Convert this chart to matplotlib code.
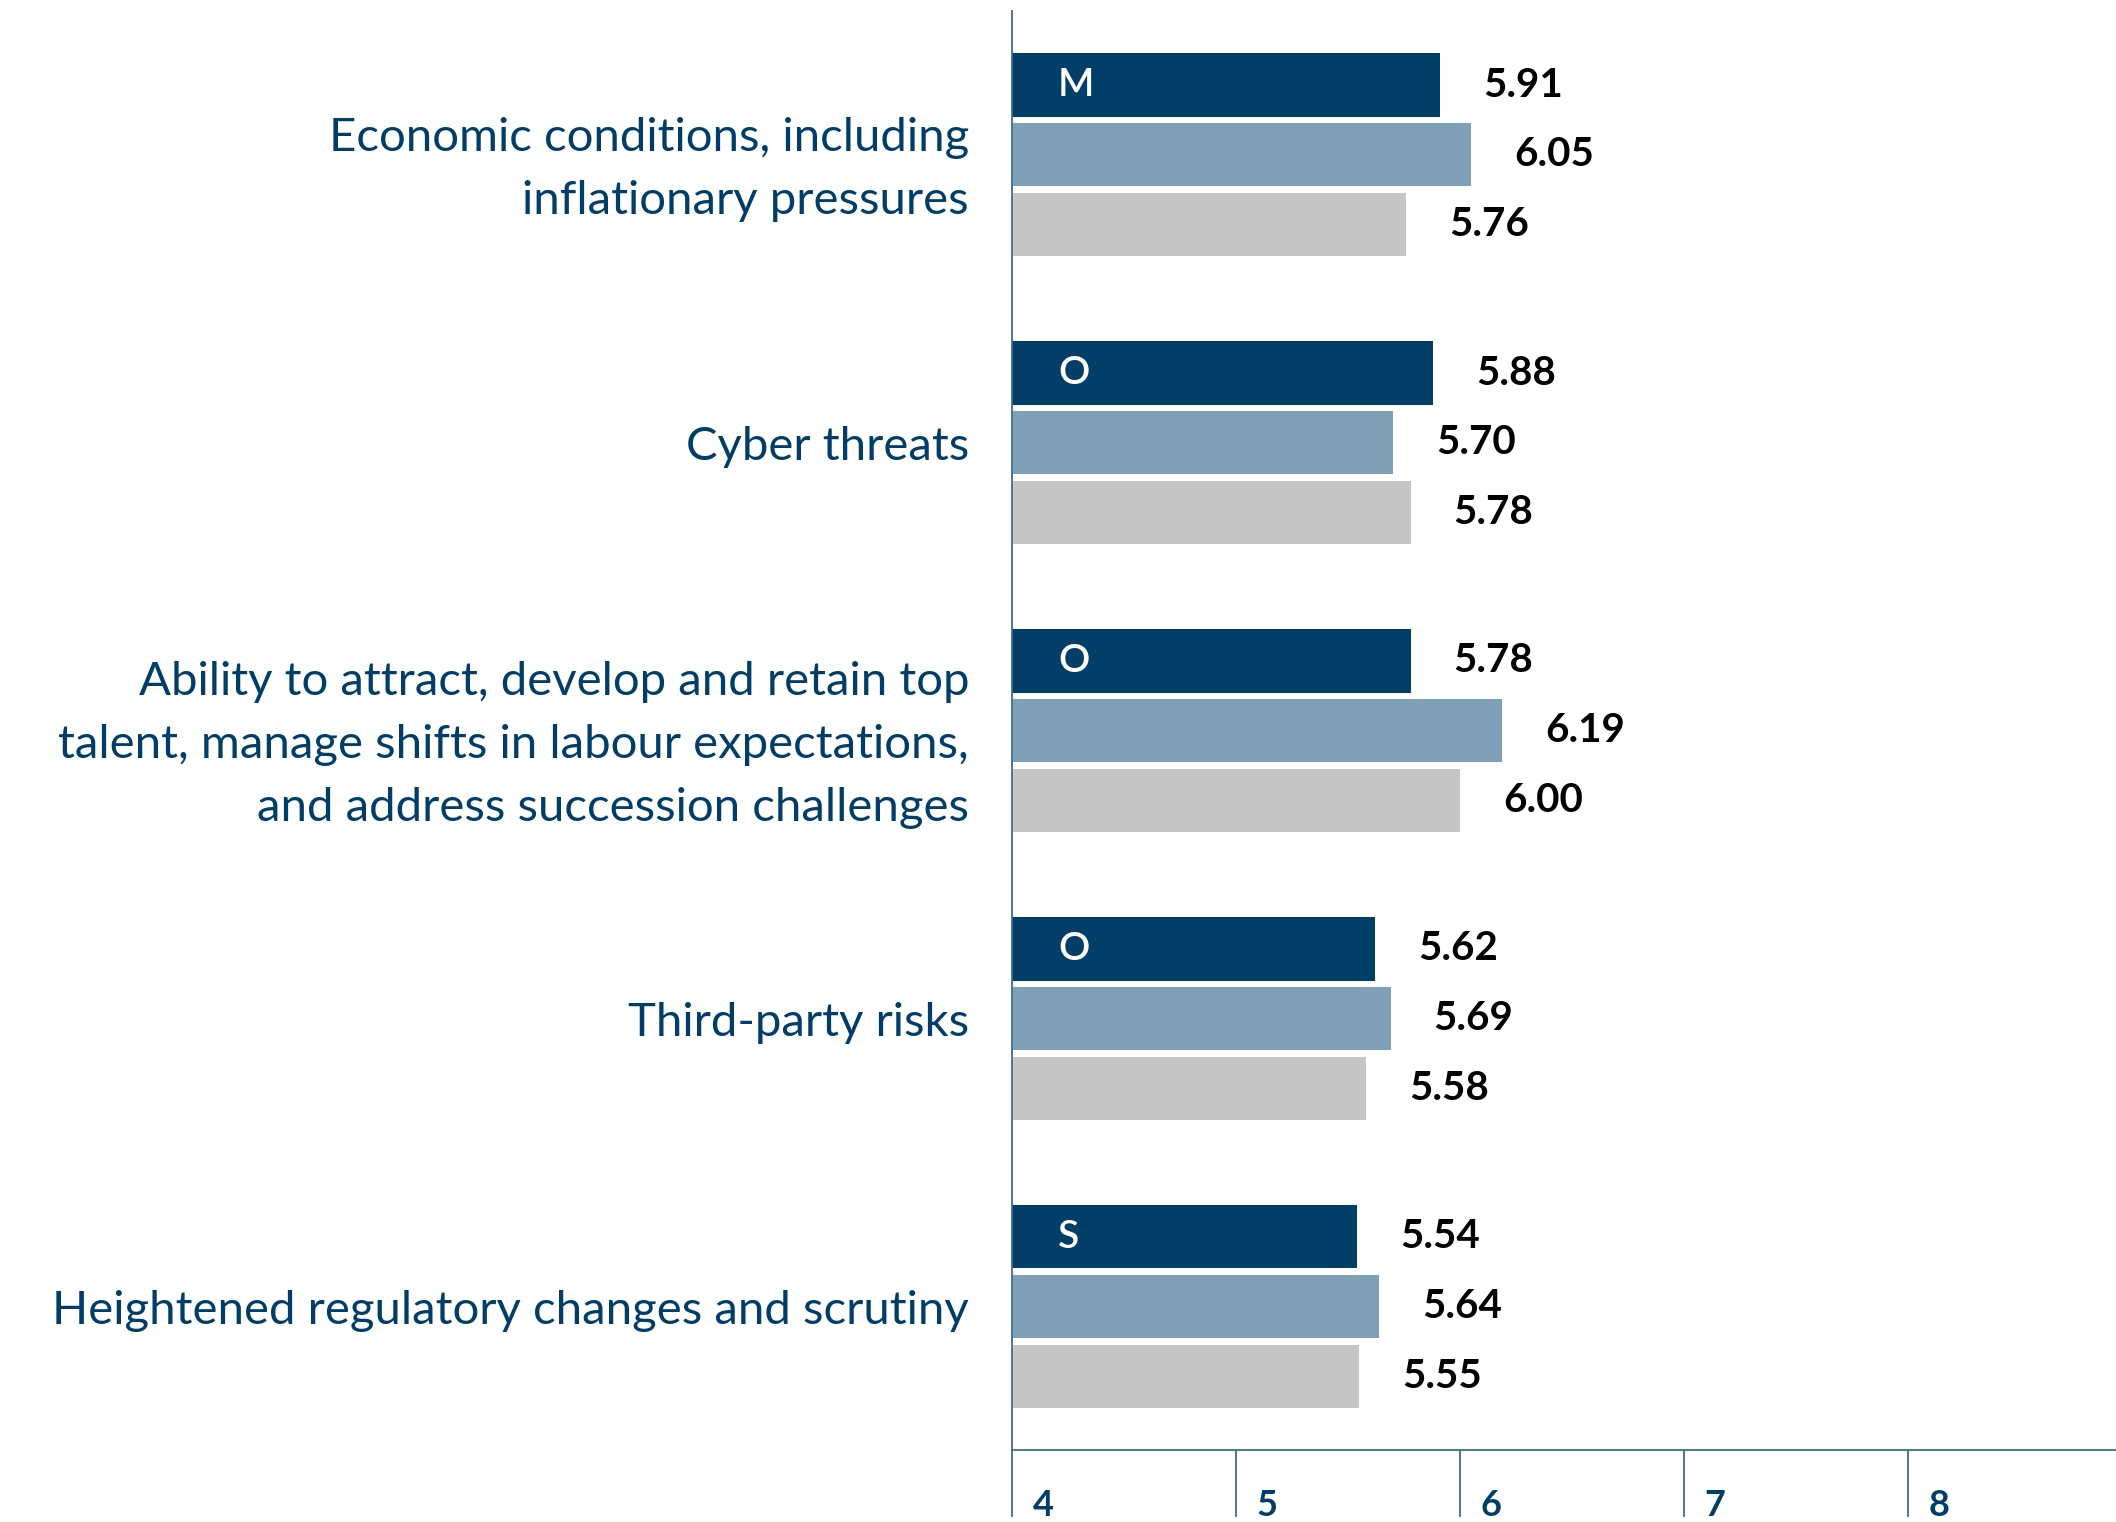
import numpy as np
import matplotlib.pyplot as plt

plt.rcParams['font.family'] = ['Lato', 'DejaVu Sans']

# data
categories = [
    "Economic conditions, including\ninflationary pressures",
    "Cyber threats",
    "Ability to attract, develop and retain top\ntalent, manage shifts in labour expectations,\nand address succession challenges",
    "Third-party risks",
    "Heightened regulatory changes and scrutiny",
]
series_a = [5.91, 5.88, 5.78, 5.62, 5.54]   # dark
series_b = [6.05, 5.70, 6.19, 5.69, 5.64]   # mid
series_c = [5.76, 5.78, 6.00, 5.58, 5.55]   # light
trend_letters = ["M", "O", "O", "O", "S"]
xticks = [4, 5, 6, 7, 8]

navy = "#003E69"
colors = ["#023F68", "#7FA0B6", "#C6C6C6"]
axis_col = "#3F6E92"

fig = plt.figure(figsize=(21.16, 15.22), dpi=100)
ax = fig.add_axes([0.4783, 0.047, 0.5217, 0.9459])

base = 4.0
y = np.arange(len(categories))
h = 0.22
step = 0.242
for i, (vals, c) in enumerate(zip([series_a, series_b, series_c], colors)):
    pos = y + (i - 1) * step
    widths = np.array(vals) - base
    ax.barh(pos, widths, left=base, height=h, color=c, zorder=2)
    for p, v in zip(pos, vals):
        ax.annotate(f"{v:.2f}", (v, p), xytext=(31, 0), textcoords="offset points",
                    ha="left", va="center", fontsize=29, fontweight="bold", color="black")

for yy, t in zip(y, trend_letters):
    ax.annotate(t, (base, yy - step), xytext=(33, 0), textcoords="offset points",
                ha="left", va="center", fontsize=28, fontweight="semibold",
                color="white", zorder=3)

ax.set_xlim(4, 8.93)
ax.set_ylim(4.5, -0.5)

ax.set_yticks(y)
ax.set_yticklabels(categories, fontsize=34, color=navy, linespacing=1.62)
ax.tick_params(axis="y", length=0, pad=31)

ax.set_xticks(xticks)
ax.set_xticklabels([])
ax.tick_params(axis="x", length=48, width=1.3, color=axis_col, direction="out")
for t in xticks:
    ax.annotate(str(t), (t, 0), xycoords=ax.get_xaxis_transform(), xytext=(15, -47),
                textcoords="offset points", ha="left", va="baseline",
                fontsize=26, color=navy, fontweight="bold", annotation_clip=False)

for s in ["top", "right"]:
    ax.spines[s].set_visible(False)
ax.spines["left"].set_color(axis_col)
ax.spines["bottom"].set_color(axis_col)
ax.spines["left"].set_linewidth(1.3)
ax.spines["bottom"].set_linewidth(1.3)

fig.savefig("out.png", dpi=100)
